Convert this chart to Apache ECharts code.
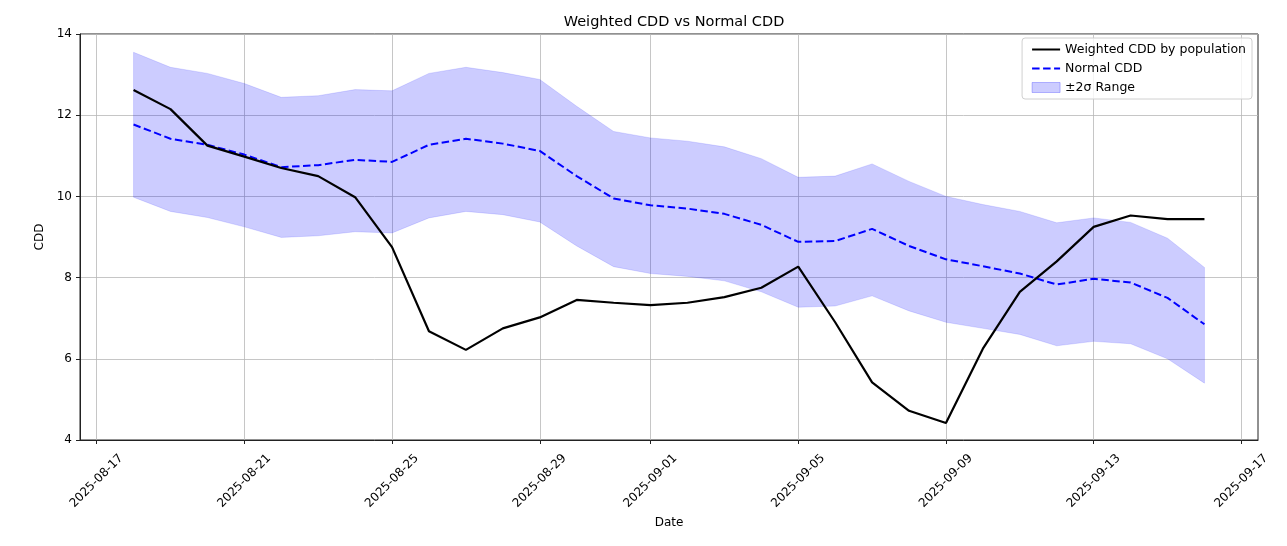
<!DOCTYPE html>
<html><head><meta charset="utf-8">
<script src="https://cdn.jsdelivr.net/npm/echarts@6/dist/echarts.min.js"></script>
<style>html,body{margin:0;padding:0;background:#fff}#c{width:1287px;height:546px}</style>
</head><body><div id="c"></div>
<script>
const dates = ['2025-08-18','2025-08-19','2025-08-20','2025-08-21','2025-08-22','2025-08-23','2025-08-24','2025-08-25','2025-08-26','2025-08-27',
  '2025-08-28','2025-08-29','2025-08-30','2025-08-31','2025-09-01','2025-09-02','2025-09-03','2025-09-04','2025-09-05','2025-09-06',
  '2025-09-07','2025-09-08','2025-09-09','2025-09-10','2025-09-11','2025-09-12','2025-09-13','2025-09-14','2025-09-15','2025-09-16'];
const weighted = [12.62,12.15,11.25,10.98,10.70,10.50,9.98,8.75,6.68,6.22,
  6.75,7.02,7.45,7.38,7.32,7.38,7.52,7.75,8.27,6.90,
  5.42,4.72,4.42,6.25,7.65,8.40,9.25,9.53,9.44,9.44];
const normal = [11.77,11.42,11.27,11.03,10.72,10.77,10.90,10.85,11.27,11.42,
  11.30,11.12,10.50,9.95,9.78,9.70,9.57,9.30,8.88,8.90,
  9.20,8.78,8.45,8.28,8.10,7.83,7.97,7.88,7.50,6.85];
const upper = [13.55,13.18,13.03,12.78,12.44,12.48,12.63,12.60,13.03,13.18,
  13.05,12.88,12.22,11.60,11.44,11.36,11.22,10.93,10.47,10.50,
  10.80,10.37,10.00,9.80,9.63,9.35,9.47,9.36,8.97,8.25];
const lower = [9.98,9.63,9.48,9.25,8.99,9.03,9.13,9.10,9.47,9.63,
  9.55,9.37,8.78,8.27,8.10,8.03,7.92,7.65,7.27,7.30,
  7.55,7.18,6.90,6.75,6.60,6.32,6.43,6.37,6.00,5.40];
const tickLabels = ['2025-08-17','2025-08-21','2025-08-25','2025-08-29','2025-09-01','2025-09-05','2025-09-09','2025-09-13','2025-09-17'];

const DAY = 86400000;
const base = Date.UTC(2025, 7, 17);
function dayOf(s) { const p = s.split('-'); return (Date.UTC(+p[0], +p[1] - 1, +p[2]) - base) / DAY; }
const xs = dates.map(dayOf);
const tickPos = tickLabels.map(dayOf);
const labelMap = {};
tickLabels.forEach(function (t) { labelMap[dayOf(t)] = t; });
const span = xs[xs.length - 1] - xs[0];
const xMin = xs[0] - 0.05 * span, xMax = xs[xs.length - 1] + 0.05 * span;

const bandData = xs.map(function (x, i) { return [x, lower[i], upper[i]]; });
const font = 'DejaVu Sans';
const chart = echarts.init(document.getElementById('c'));
chart.setOption({
  animation: false,
  backgroundColor: '#fff',
  title: { text: 'Weighted CDD vs Normal CDD', left: 669, textAlign: 'center', top: 10,
    textStyle: { fontFamily: font, fontSize: 14.5, fontWeight: 'normal', color: '#000' } },
  grid: { left: 80, right: 29, top: 34, bottom: 106, show: true, borderColor: '#222', borderWidth: 1, containLabel: false },
  legend: {
    orient: 'vertical', right: 35, top: 38, itemWidth: 28, itemHeight: 10, itemGap: 6,
    padding: [5, 6, 5, 9], backgroundColor: 'rgba(255,255,255,0.8)', borderColor: '#d0d0d0', borderWidth: 1, borderRadius: 3,
    textStyle: { fontFamily: font, fontSize: 12.5, color: '#000' },
    data: [
      { name: 'Weighted CDD by population', itemStyle: { opacity: 0 } },
      { name: 'Normal CDD', itemStyle: { opacity: 0 } },
      { name: '±2σ Range', icon: 'rect', itemStyle: { color: 'rgba(0,0,255,0.2)', borderColor: 'rgba(0,0,255,0.25)', borderWidth: 1 } }
    ]
  },
  xAxis: {
    type: 'value', min: xMin, max: xMax,
    name: 'Date', nameLocation: 'middle', nameGap: 76,
    nameTextStyle: { fontFamily: font, fontSize: 12, color: '#000' },
    axisLine: { show: true, onZero: false, lineStyle: { color: '#222' } },
    axisTick: { show: true, length: 4, customValues: tickPos, lineStyle: { color: '#222' } },
    axisLabel: { customValues: tickPos, rotate: 45, margin: 41, align: 'center', verticalAlign: 'middle',
      fontFamily: font, fontSize: 12, color: '#000',
      formatter: function (v) { return labelMap[Math.round(v)] || ''; } },
    splitLine: { show: true, lineStyle: { color: '#b8b8b8', width: 0.8 } }
  },
  yAxis: {
    type: 'value', min: 4, max: 14, interval: 2,
    name: 'CDD', nameLocation: 'middle', nameGap: 29, nameRotate: 90,
    nameTextStyle: { fontFamily: font, fontSize: 12, color: '#000' },
    axisLine: { show: true, onZero: false, lineStyle: { color: '#222' } },
    axisTick: { show: true, length: 4, lineStyle: { color: '#222' } },
    axisLabel: { margin: 8, fontFamily: font, fontSize: 12, color: '#000' },
    splitLine: { show: true, lineStyle: { color: '#b8b8b8', width: 0.8 } }
  },
  series: [
    {
      name: '±2σ Range', type: 'custom', z: 1,
      itemStyle: { color: 'rgba(0,0,255,0.2)' },
      data: bandData,
      encode: { x: 0, y: [1, 2] },
      renderItem: function (params, api) {
        if (params.dataIndex !== 0) return null;
        const pts = [];
        for (let i = 0; i < bandData.length; i++) pts.push(api.coord([bandData[i][0], bandData[i][2]]));
        for (let i = bandData.length - 1; i >= 0; i--) pts.push(api.coord([bandData[i][0], bandData[i][1]]));
        return { type: 'polygon', shape: { points: pts },
          style: { fill: 'rgba(0,0,255,0.2)', stroke: 'rgba(0,0,255,0.12)', lineWidth: 1 } };
      }
    },
    {
      name: 'Normal CDD', type: 'line', symbol: 'none', z: 3,
      data: xs.map(function (x, i) { return [x, normal[i]]; }),
      lineStyle: { color: '#0000ff', width: 2, type: [7.5, 3.5] },
      itemStyle: { color: '#0000ff' }
    },
    {
      name: 'Weighted CDD by population', type: 'line', symbol: 'none', z: 4,
      data: xs.map(function (x, i) { return [x, weighted[i]]; }),
      lineStyle: { color: '#000', width: 2.2 },
      itemStyle: { color: '#000' }
    }
  ]
});
</script></body></html>
